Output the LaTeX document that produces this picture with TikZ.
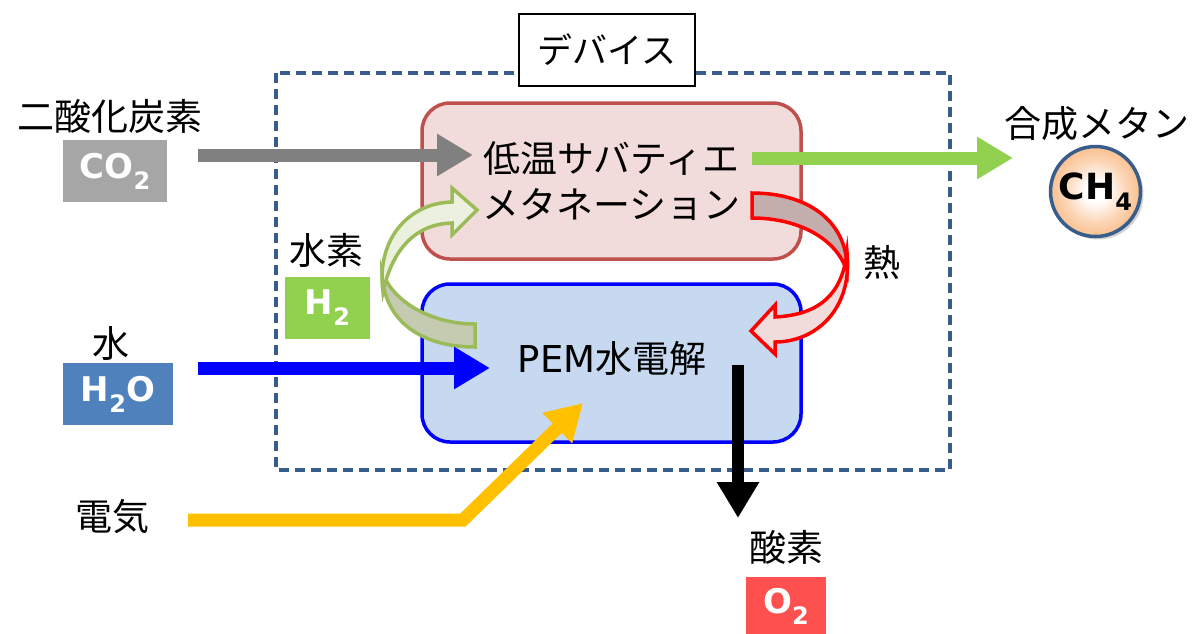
\documentclass[tikz,border=0pt]{standalone}
\usepackage{fontspec}
\setmainfont{Noto Sans CJK JP}
\newfontfamily\labfont{DejaVu Sans}
\usetikzlibrary{arrows.meta,shadows}
\definecolor{dashc}{HTML}{385D8A}
\definecolor{pinkf}{HTML}{F2DCDB}
\definecolor{pinke}{HTML}{C0504D}
\definecolor{bluef}{HTML}{C6D9F1}
\definecolor{bluee}{HTML}{0000FF}
\definecolor{grayar}{HTML}{808080}
\definecolor{greenar}{HTML}{92D050}
\definecolor{yellowar}{HTML}{FFC000}
\definecolor{co2c}{HTML}{A6A6A6}
\definecolor{h2c}{HTML}{92D050}
\definecolor{h2oc}{HTML}{4F81BD}
\definecolor{o2c}{HTML}{FF5050}
\definecolor{peach}{HTML}{FAC090}
\definecolor{circe}{HTML}{385D8A}
\definecolor{gdark}{HTML}{C4CBB1}
\definecolor{glight}{HTML}{EBF1DE}
\definecolor{gedge}{HTML}{9BBB59}
\definecolor{rdark}{HTML}{C4ADAD}
\definecolor{rlight}{HTML}{F2DCDB}
\definecolor{redge}{HTML}{FF0000}
\pgfdeclareradialshading{peachball}{\pgfpoint{0bp}{0bp}}{color(0bp)=(white); color(6bp)=(white); color(17bp)=(peach!65!white); color(25bp)=(peach); color(50bp)=(peach)}
\newcommand\subn[1]{\raisebox{-11pt}{\fontsize{24}{24}\selectfont #1}}
\tikzset{
  jp/.style={font=\fontsize{37}{46}\selectfont, inner sep=0pt, align=center},
  lbl/.style={font=\labfont\bfseries\fontsize{34}{36}\selectfont, text=white, inner sep=0pt},
  fatarrow/.style={line width=13pt, -{Triangle[length=36pt,width=40pt]}},
  box/.style={line width=3.5pt, rounded corners=28pt, minimum width=379pt},
  curvg/.style={draw=gedge, line width=3.5pt, line join=miter},
  curvr/.style={draw=redge, line width=3.5pt, line join=miter},
}
\begin{document}
\begin{tikzpicture}[x=1pt,y=-1pt]
\useasboundingbox (0,0) rectangle (1196,633);
\fill[white] (0,0) rectangle (1196,633);

% device frame
\draw[dashc, line width=3.5pt, dash pattern=on 10pt off 6pt] (276,73) rectangle (950,470);
\node[draw=black, fill=white, line width=1.8pt, minimum width=176pt, minimum height=72pt, jp, font=\fontsize{35}{40}\selectfont] (dev) at (607,50) {デバイス};

% process boxes
\node[box, draw=pinke, fill=pinkf, minimum height=156pt, jp] (sab) at (611.5,181) {低温サバティエ\\メタネーション};
\node[box, draw=bluee, fill=bluef, minimum height=158pt] (pem) at (611.5,363) {};
\node[jp] (pemt) at (612,358) {{\labfont PEM}水電解};

% curved green arrow (hydrogen)
\path[curvg, fill=gdark] (475,324) -- (475,347) .. controls (418,347) and (382,318) .. (382,270) .. controls (390,300) and (430,324) .. (475,324) -- cycle;
\path[curvg, fill=glight] (383,292) .. controls (376,240) and (408,203) .. (452,202) -- (452,188) -- (477,210) -- (452,235) -- (452,223) .. controls (415,224) and (392,250) .. (383,292) -- cycle;

% curved red arrow (heat)
\path[curvr, fill=rdark] (752,193) .. controls (812,193) and (849,225) .. (847,272) .. controls (838,240) and (800,218) .. (752,218) -- cycle;
\path[curvr, fill=rlight] (847,252) .. controls (853,310) and (815,342) .. (775,342) -- (775,354) -- (751,331) -- (775,305) -- (775,317) .. controls (815,315) and (842,298) .. (847,252) -- cycle;

% coordinates for arrows
\coordinate (co2s) at (198,155);
\coordinate (co2e) at (473,155);
\coordinate (ch4s) at (752,158);
\coordinate (ch4e) at (1013,158);
\coordinate (h2os) at (198,368);
\coordinate (h2oe) at (490,368);
\coordinate (o2s) at (738,365);
\coordinate (o2e) at (738,518);
\coordinate (els) at (188,520);
\coordinate (elc) at (463,520);
\coordinate (ele) at (583,403);

\draw[fatarrow, grayar] (co2s) -- (co2e);
\draw[fatarrow, greenar] (ch4s) -- (ch4e);
\draw[fatarrow, bluee] (h2os) -- (h2oe);
\draw[fatarrow, black, line width=12pt] (o2s) -- (o2e);
\draw[fatarrow, yellowar, line join=miter] (els) -- (elc) -- (ele);

% labels
\node[jp] (tco2) at (110,116) {二酸化炭素};
\node[lbl, fill=co2c, minimum width=104pt, minimum height=62pt] (co2) at (115,171) {CO\subn{2}};
\node[jp] (th2) at (326,250) {水素};
\node[lbl, fill=h2c, minimum width=85pt, minimum height=62pt] (h2) at (327.5,308) {H\subn{2}};
\node[jp] (th2o) at (111,343) {水};
\node[lbl, fill=h2oc, minimum width=110pt, minimum height=62pt] (h2o) at (118,394) {H\subn{2}O};
\node[jp] (tel) at (112,517) {電気};
\node[jp] (to2) at (786,547) {酸素};
\node[lbl, fill=o2c, minimum width=80pt, minimum height=58pt] (o2) at (786,606) {O\subn{2}};
\node[jp] (theat) at (882,262) {熱};
\node[jp] (tch4) at (1097,124) {合成メタン};
\node[circle, draw=circe, line width=3.5pt, minimum size=90pt, inner sep=0pt,
  shade, shading=peachball,
  drop shadow={shadow xshift=3pt, shadow yshift=-3pt, opacity=0.35},
  font=\labfont\bfseries\fontsize{36}{38}\selectfont] (ch4) at (1095.5,191.5) {CH\subn{4}};
\end{tikzpicture}
\end{document}
